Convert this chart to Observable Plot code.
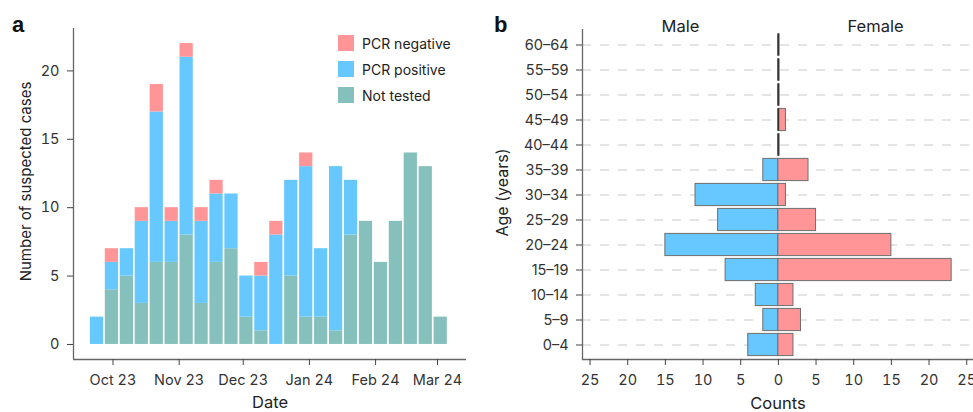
<!DOCTYPE html>
<html><head><meta charset="utf-8">
<script src="https://cdn.jsdelivr.net/npm/d3@7"></script>
<script src="https://cdn.jsdelivr.net/npm/@observablehq/plot@0.6"></script>
<style>
html,body{margin:0;padding:0;background:#fff;}
#wrap{position:relative;width:973px;height:412px;font-family:Inter,"Noto Sans",sans-serif;color:#222;overflow:hidden;}
.panel{position:absolute;top:0;}
.tag{position:absolute;font:bold 22px "Liberation Sans",Arial,sans-serif;color:#111;line-height:1;}
.legend{position:absolute;left:338px;top:35px;font-size:14px;color:#222;}
.legend .row{display:flex;align-items:center;height:16px;margin-bottom:10px;}
.legend .sw{width:16px;height:16px;margin-right:8px;display:inline-block;}
</style></head><body>
<div id="wrap"></div>
<script>
// ---------- Panel a data ----------
const weekStarts = ["2023-09-20","2023-09-27","2023-10-04","2023-10-11","2023-10-18","2023-10-25",
  "2023-11-01","2023-11-08","2023-11-15","2023-11-22","2023-11-29","2023-12-06","2023-12-13",
  "2023-12-20","2023-12-27","2024-01-03","2024-01-10","2024-01-17","2024-01-24","2024-01-31",
  "2024-02-07","2024-02-14","2024-02-21","2024-02-28"];
const notTested   = [0,4,5,3,6,6,8,3,6,7,2,1,0,5,2,2,1,8,9,6,9,14,13,2];
const pcrPositive = [2,2,2,6,11,3,13,6,5,4,3,4,8,7,11,5,12,4,0,0,0,0,0,0];
const pcrNegative = [0,1,0,1,2,1,1,1,1,0,0,1,1,0,1,0,0,0,0,0,0,0,0,0];
const statusNames = ["Not tested","PCR positive","PCR negative"];
const statusColors = ["#86C0BC","#66C8FF","#FF9596"];
const legendOrder = ["PCR negative","PCR positive","Not tested"];
const monthTicks = ["2023-10-01","2023-11-01","2023-12-01","2024-01-01","2024-02-01","2024-03-01"];
const yTicksA = [0,5,10,15,20];

// ---------- Panel b data ----------
const ageGroups = ["0–4","5–9","10–14","15–19","20–24","25–29","30–34","35–39","40–44","45–49","50–54","55–59","60–64"];
const maleCounts   = [4,2,3,7,15,8,11,2,0,0,0,0,0];
const femaleCounts = [2,3,2,23,15,5,1,4,0,1,0,0,0];
const sexNames = ["Male","Female"];
const sexColors = ["#66C8FF","#FF9596"];
const xTicksB = [-25,-20,-15,-10,-5,0,5,10,15,20,25];

const wrap = document.getElementById("wrap");
const font = "Inter, 'Noto Sans', sans-serif";

// build stacked table for panel a
const seriesA = [["Not tested",notTested],["PCR positive",pcrPositive],["PCR negative",pcrNegative]];
const rowsA = [];
weekStarts.forEach((w,i)=>{
  const d = new Date(w+"T00:00Z");
  let base = 0;
  for (const [name, vals] of seriesA) {
    const v = vals[i];
    if (v > 0) { rowsA.push({x1:d, x2:d3.utcDay.offset(d,7), y1:base, y2:base+v, status:name}); base += v; }
  }
});
const xDomA = [new Date("2023-09-12T12:00Z"), new Date("2024-03-14T14:00Z")];
const yDomA = [-1.1, 23.1];

const plotA = Plot.plot({
  width:480, height:412, marginLeft:73, marginRight:14, marginTop:28, marginBottom:53,
  style:{fontFamily:font, fontSize:"14.5px", color:"#333", background:"transparent", overflow:"visible"},
  x:{type:"utc", domain:xDomA},
  y:{domain:yDomA},
  color:{domain:statusNames, range:statusColors},
  marks:[
    Plot.rect(rowsA,{x1:"x1",x2:"x2",y1:"y1",y2:"y2",fill:"status",insetLeft:0.85,insetRight:0.85}),
    Plot.ruleX([xDomA[0]],{stroke:"#666",strokeWidth:1.3}),
    Plot.ruleY([yDomA[0]],{stroke:"#666",strokeWidth:1.3}),
    Plot.axisY({ticks:yTicksA,tickSize:6,tickPadding:8,label:null,stroke:"#444",fill:"#333"}),
    Plot.axisX({ticks:monthTicks.map(s=>new Date(s+"T00:00Z")),tickFormat:d3.utcFormat("%b %y"),tickSize:6,tickPadding:9,label:null,stroke:"#444",fill:"#333"}),
    Plot.text(["Number of suspected cases"],{text:d=>d,frameAnchor:"left",textAnchor:"middle",lineAnchor:"middle",rotate:-90,dx:-47.5,dy:-12.5,fontSize:15,fill:"#222"}),
    Plot.text(["Date"],{text:d=>d,frameAnchor:"bottom",textAnchor:"middle",lineAnchor:"middle",dy:43,fontSize:16.5,fill:"#222"})
  ]
});
plotA.classList.add("panel"); plotA.style.left = "0px";
wrap.appendChild(plotA);

// legend (panel a)
const colorA = plotA.scale("color");
const leg = document.createElement("div"); leg.className = "legend";
legendOrder.forEach(n=>{
  const r = document.createElement("div"); r.className = "row";
  const sw = document.createElement("span"); sw.className = "sw"; sw.style.background = colorA.apply(n);
  const t = document.createElement("span"); t.textContent = n;
  r.appendChild(sw); r.appendChild(t); leg.appendChild(r);
});
wrap.appendChild(leg);

// panel b
const rowsB = [];
ageGroups.forEach((g,i)=>{
  rowsB.push({age:g, sex:"Male", value:maleCounts[i], signed:-maleCounts[i]});
  rowsB.push({age:g, sex:"Female", value:femaleCounts[i], signed:femaleCounts[i]});
});
const xDomB = [-26, 25.9];
const plotB = Plot.plot({
  width:493, height:412, marginLeft:102, marginRight:0, marginTop:29, marginBottom:53,
  style:{fontFamily:font, fontSize:"14.5px", color:"#333", background:"transparent", overflow:"visible"},
  x:{domain:xDomB},
  y:{type:"band", domain:ageGroups.slice().reverse(), padding:0},
  color:{domain:sexNames, range:sexColors},
  marks:[
    Plot.ruleY(ageGroups,{y:d=>d,stroke:"#dcdcdc",strokeWidth:1.5,strokeDasharray:"9,9"}),
    Plot.barX(rowsB.filter(d=>d.value>0),{x1:0,x2:"signed",y:"age",fill:"sex",stroke:"#6e6e6e",strokeWidth:1,insetTop:1.4,insetBottom:1.4}),
    Plot.tickX(rowsB.filter(d=>d.value===0),{x:0,y:"age",stroke:"#333",strokeWidth:1.8,insetTop:1.4,insetBottom:1.4}),
    Plot.ruleX([xDomB[0]],{stroke:"#666",strokeWidth:1.3}),
    Plot.frame({anchor:"bottom",stroke:"#666",strokeWidth:1.3}),
    Plot.axisY({tickSize:6,tickPadding:8,label:null,stroke:"#444",fill:"#333"}),
    Plot.axisX({ticks:xTicksB,tickFormat:d=>Math.abs(d),tickSize:6,tickPadding:9,label:null,stroke:"#444",fill:"#333"}),
    Plot.text(["Age (years)"],{text:d=>d,frameAnchor:"left",textAnchor:"middle",lineAnchor:"middle",rotate:-90,dx:-80,dy:-2,fontSize:16,fill:"#222"}),
    Plot.text(["Counts"],{text:d=>d,frameAnchor:"bottom",textAnchor:"middle",lineAnchor:"middle",dy:44.5,fontSize:16.5,fill:"#222"}),
    Plot.text(["Male"],{text:d=>d,frameAnchor:"top-left",textAnchor:"middle",lineAnchor:"middle",dx:98,dy:-3,fontSize:16.5,fill:"#222"}),
    Plot.text(["Female"],{text:d=>d,frameAnchor:"top-right",textAnchor:"middle",lineAnchor:"middle",dx:-98,dy:-3,fontSize:16.5,fill:"#222"})
  ]
});
plotB.classList.add("panel"); plotB.style.left = "480px";
wrap.appendChild(plotB);

// panel tags
[["a",12,14],["b",494,14]].forEach(([t,x,y])=>{
  const el = document.createElement("div"); el.className="tag"; el.textContent=t;
  el.style.left = x+"px"; el.style.top = y+"px"; wrap.appendChild(el);
});
</script>
</body></html>
